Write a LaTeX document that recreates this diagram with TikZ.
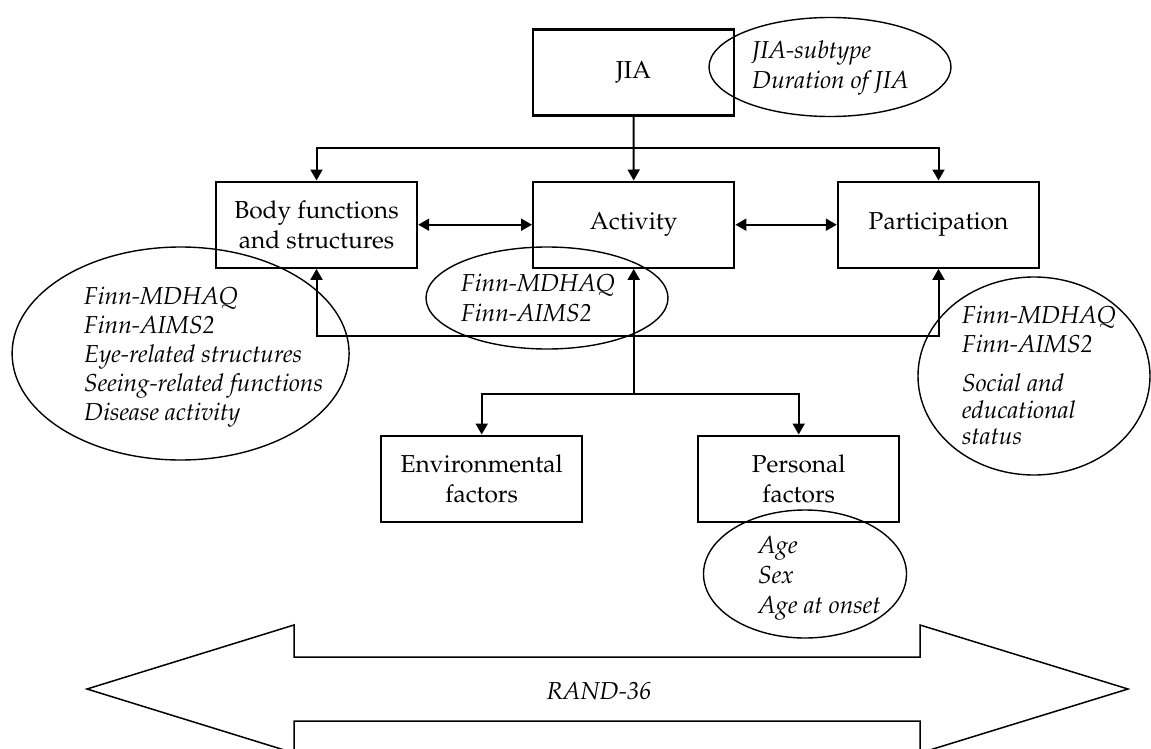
\documentclass[tikz,border=0pt]{standalone}
\usepackage[T1]{fontenc}
\usepackage{mathpazo}
\usetikzlibrary{shapes.geometric,arrows.meta}
\begin{document}
\begin{tikzpicture}[x=1pt,y=-1pt,
  every node/.style={font=\fontsize{24.5}{29.4}\selectfont},
  box/.style={draw,line width=2.4pt,minimum width=201pt,minimum height=86pt,align=center,inner sep=0pt},
  oval/.style={draw,ellipse,line width=1.4pt,inner sep=0pt},
  lbl/.style={anchor=base west,inner sep=0pt},
  conn/.style={line width=2pt,-{Triangle[width=12pt,length=11pt]}},
  dconn/.style={line width=2pt,{Triangle[width=12pt,length=11pt]}-{Triangle[width=12pt,length=11pt]}}
]
\useasboundingbox (0,0) rectangle (1151,749);
\clip (0,0) rectangle (1151,749);

% boxes
\node[box] (jia) at (633.5,72.5) {JIA};
\node[box] (body) at (316.5,224.7) {Body functions\\and structures};
\node[box] (act) at (633.7,224.7) {Activity};
\node[box] (part) at (938.5,224.7) {Participation};
\node[box] (env) at (481.7,478.7) {Environmental\\factors};
\node[box] (pers) at (798.7,478.7) {Personal\\factors};

% ellipses
\node[oval,minimum width=242pt,minimum height=99pt] (ejia) at (830,67) {};
\node[oval,minimum width=337pt,minimum height=213pt] (ebody) at (180.6,353.5) {};
\node[oval,minimum width=242pt,minimum height=102pt] (eact) at (547,298) {};
\node[oval,minimum width=232pt,minimum height=198pt] (epart) at (1034,376) {};
\node[oval,minimum width=203pt,minimum height=128pt] (epers) at (805,574) {};

% ellipse texts
\node[lbl] (tjia) at (752,59) {\itshape\begin{tabular}[t]{@{}l@{}}JIA-subtype\\Duration of JIA\end{tabular}};
\node[lbl] (tbody) at (84,304) {\fontsize{24.5}{29}\selectfont\itshape\begin{tabular}[t]{@{}l@{}}Finn-MDHAQ\\Finn-AIMS2\\Eye-related structures\\Seeing-related functions\\Disease activity\end{tabular}};
\node[lbl] (tact) at (461,291.7) {\itshape\begin{tabular}[t]{@{}l@{}}Finn-MDHAQ\\Finn-AIMS2\end{tabular}};
\node[lbl] (tpart) at (962,323.3) {\itshape\begin{tabular}[t]{@{}l@{}}Finn-MDHAQ\\Finn-AIMS2\\[9.6pt]Social and\\[-3pt]educational\\[-3.5pt]status\end{tabular}};
\node[lbl] (tpers) at (758,553) {\fontsize{24.5}{30}\selectfont\itshape\begin{tabular}[t]{@{}l@{}}Age\\Sex\\Age at onset\end{tabular}};

% connectors
\path (0,148) coordinate (yhigh) (0,336) coordinate (ymid) (0,394) coordinate (ylow);
\coordinate (tj) at (jia.south |- yhigh);
\coordinate (mj) at (act.south |- ymid);
\coordinate (bj) at (act.south |- ylow);
\draw[conn] (jia.south) -- (act.north);
\draw[conn] (tj) -| (body.north);
\draw[conn] (tj) -| (part.north);
\draw[dconn] (body.east) -- (act.west);
\draw[dconn] (act.east) -- (part.west);
\draw[dconn] (body.south) |- (mj) -| (part.south);
\draw[conn] (bj) -- (act.south);
\draw[conn] (bj) -| (env.north);
\draw[conn] (bj) -| (pers.north);

% big double arrow
\draw[line width=1.5pt,line join=miter] (87,689) -- (294,625) -- (294,657) -- (920,657) -- (920,625) -- (1128,689) -- (920,753) -- (920,721) -- (294,721) -- (294,753) -- cycle;
\node[anchor=base,inner sep=0pt] (rand) at (599,699) {\itshape RAND-36};
\end{tikzpicture}
\end{document}
